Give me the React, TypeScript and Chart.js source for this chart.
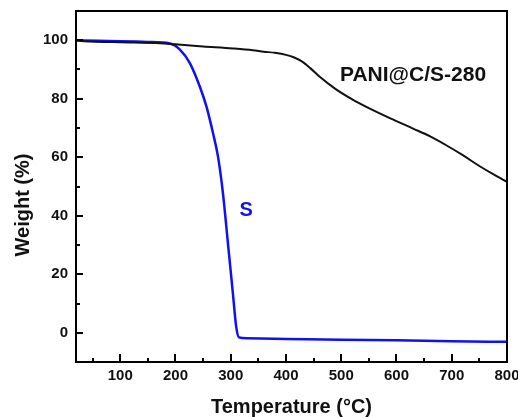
import React, { useEffect, useRef } from "react";
import { Chart, registerables } from "chart.js";

Chart.register(...registerables);

// Sulfur (S) TGA curve
const tempS = [20, 60, 100, 150, 190, 208, 226, 244, 256, 268, 277, 286, 295, 304, 310, 315, 330, 400, 500, 600, 700, 800];
const weightS = [100, 99.8, 99.7, 99.4, 98.9, 96.8, 92.2, 84.2, 77.4, 68.2, 60.2, 47.6, 30.5, 13.3, 1.9, -1.6, -1.9, -2.1, -2.4, -2.6, -2.9, -3.1];

// PANI@C/S-280 TGA curve
const tempP = [20, 30, 46, 100, 172, 200, 250, 304, 340, 360, 380, 400, 415, 430, 445, 460, 490, 520, 550, 590, 630, 660, 690, 720, 750, 775, 800];
const weightP = [100, 99.7, 99.55, 99.3, 99.0, 98.6, 97.9, 97.2, 96.6, 96.1, 95.7, 95.0, 94.1, 92.6, 90.3, 87.7, 83.3, 79.8, 76.8, 73.2, 69.8, 67.2, 64.1, 60.7, 57.0, 54.2, 51.6];

const xMajorTicks = [100, 200, 300, 400, 500, 600, 700, 800];
const xMinorTicks = [50, 150, 250, 350, 450, 550, 650, 750];
const yMajorTicks = [0, 20, 40, 60, 80, 100];
const yMinorTicks = [10, 30, 50, 70, 90];

const seriesNames = ["S", "PANI@C/S-280"];
const xTitle = "Temperature (°C)";
const yTitle = "Weight (%)";

const FONT = "'Liberation Sans', Arial, sans-serif";

export default function App() {
  const ref = useRef<HTMLCanvasElement | null>(null);

  useEffect(() => {
    const canvas = ref.current;
    if (!canvas) return;

    const decor = {
      id: "decor",
      afterDatasetsDraw(chart: any) {
        const { ctx, chartArea } = chart;
        const xs = chart.scales.x;
        const ys = chart.scales.y;
        ctx.save();
        ctx.strokeStyle = "#000";
        ctx.lineWidth = 2;
        ctx.strokeRect(chartArea.left, chartArea.top, chartArea.right - chartArea.left, chartArea.bottom - chartArea.top);
        ctx.lineWidth = 2;
        ctx.beginPath();
        const drawX = (v: number, len: number) => {
          const px = Math.round(xs.getPixelForValue(v));
          ctx.moveTo(px, chartArea.bottom);
          ctx.lineTo(px, chartArea.bottom - len);
        };
        const drawY = (v: number, len: number) => {
          const py = Math.round(ys.getPixelForValue(v));
          ctx.moveTo(chartArea.left, py);
          ctx.lineTo(chartArea.left + len, py);
        };
        xMajorTicks.forEach((v) => drawX(v, 8));
        xMinorTicks.forEach((v) => drawX(v, 4));
        yMajorTicks.forEach((v) => drawY(v, 7));
        yMinorTicks.forEach((v) => drawY(v, 4));
        ctx.stroke();

        // series labels
        ctx.textAlign = "center";
        ctx.textBaseline = "middle";
        ctx.font = `bold 21px ${FONT}`;
        ctx.fillStyle = "#111";
        ctx.fillText(seriesNames[1], xs.getPixelForValue(630), ys.getPixelForValue(88.0));
        ctx.font = `bold 20px ${FONT}`;
        ctx.fillStyle = "#1010f0";
        ctx.fillText(seriesNames[0], xs.getPixelForValue(328), ys.getPixelForValue(41.7));

        // axis titles
        ctx.fillStyle = "#111";
        ctx.fillText(xTitle, (chartArea.left + chartArea.right) / 2, 407);
        ctx.save();
        ctx.translate(23, 205);
        ctx.rotate(-Math.PI / 2);
        ctx.fillText(yTitle, 0, 0);
        ctx.restore();
        ctx.restore();
      },
    };

    const noPad = (s: any) => {
      s.paddingTop = 0;
      s.paddingBottom = 0;
      s.paddingLeft = 0;
      s.paddingRight = 0;
    };

    const chart = new Chart(canvas, {
      type: "line",
      data: {
        datasets: [
          {
            label: seriesNames[1],
            data: tempP.map((t, i) => ({ x: t, y: weightP[i] })),
            borderColor: "#111",
            borderWidth: 2,
            pointRadius: 0,
            cubicInterpolationMode: "monotone",
          },
          {
            label: seriesNames[0],
            data: tempS.map((t, i) => ({ x: t, y: weightS[i] })),
            borderColor: "#1010f0",
            borderWidth: 2.5,
            pointRadius: 0,
            cubicInterpolationMode: "monotone",
          },
        ],
      },
      options: {
        animation: false,
        responsive: false,
        layout: { padding: { top: 11, right: 11, left: 0, bottom: 0 } },
        plugins: { legend: { display: false }, tooltip: { enabled: false } },
        scales: {
          x: {
            type: "linear",
            min: 20,
            max: 800,
            afterBuildTicks: (s: any) => {
              s.ticks = xMajorTicks.map((v) => ({ value: v }));
            },
            afterFit: (s: any) => {
              s.height = 55;
              noPad(s);
            },
            grid: { display: false, drawTicks: false, tickLength: 0 },
            border: { display: false },
            ticks: {
              autoSkip: false,
              maxRotation: 0,
              padding: 5,
              color: "#111",
              font: { family: FONT, size: 15, weight: "bold" },
            },
          },
          y: {
            type: "linear",
            min: -10,
            max: 110,
            afterBuildTicks: (s: any) => {
              s.ticks = yMajorTicks.map((v) => ({ value: v }));
            },
            afterFit: (s: any) => {
              s.width = 76;
              noPad(s);
            },
            grid: { display: false, drawTicks: false, tickLength: 0 },
            border: { display: false },
            ticks: {
              autoSkip: false,
              padding: 8,
              color: "#111",
              font: { family: FONT, size: 15, weight: "bold" },
            },
          },
        },
      },
      plugins: [decor],
    } as any);

    return () => chart.destroy();
  }, []);

  return (
    <div style={{ position: "fixed", left: 0, top: 0, width: 518, height: 417, background: "#fff" }}>
      <canvas ref={ref} width={518} height={417} style={{ display: "block" }} />
    </div>
  );
}
